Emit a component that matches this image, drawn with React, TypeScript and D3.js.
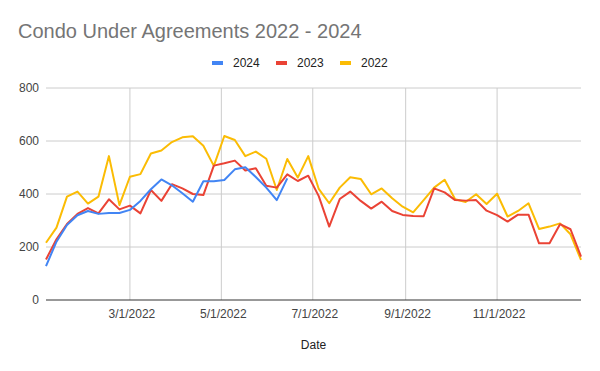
import { useMemo } from "react";
import * as d3 from "d3";

const dates = [
  "2022-01-04", "2022-01-11", "2022-01-18", "2022-01-25",
  "2022-02-01", "2022-02-08", "2022-02-15", "2022-02-22",
  "2022-03-01", "2022-03-08", "2022-03-15", "2022-03-22", "2022-03-29",
  "2022-04-05", "2022-04-12", "2022-04-19", "2022-04-26",
  "2022-05-03", "2022-05-10", "2022-05-17", "2022-05-24", "2022-05-31",
  "2022-06-07", "2022-06-14", "2022-06-21", "2022-06-28",
  "2022-07-05", "2022-07-12", "2022-07-19", "2022-07-26",
  "2022-08-02", "2022-08-09", "2022-08-16", "2022-08-23", "2022-08-30",
  "2022-09-06", "2022-09-13", "2022-09-20", "2022-09-27",
  "2022-10-04", "2022-10-11", "2022-10-18", "2022-10-25",
  "2022-11-01", "2022-11-08", "2022-11-15", "2022-11-22", "2022-11-29",
  "2022-12-06", "2022-12-13", "2022-12-20", "2022-12-27",
];

const values2024 = [
  128, 220, 283, 320, 336, 325, 328, 328, 340, 374, 418, 455, 433, 403, 371,
  448, 448, 453, 493, 501, 464, 424, 377, 459,
];

const values2023 = [
  153, 229, 287, 325, 347, 327, 380, 342, 356, 327, 415, 374, 437, 421, 400,
  396, 507, 516, 526, 489, 497, 431, 424, 474, 449, 469, 392, 277, 381, 409,
  374, 345, 371, 336, 321, 317, 316, 421, 406, 377, 375, 377, 337, 320, 296,
  322, 322, 214, 214, 286, 267, 164,
];

const values2022 = [
  216, 273, 390, 409, 364, 390, 543, 358, 465, 475, 553, 564, 596, 614, 618,
  582, 506, 619, 604, 543, 560, 533, 415, 532, 462, 543, 419, 365, 424, 463,
  457, 399, 421, 384, 352, 331, 377, 424, 454, 380, 370, 399, 362, 401, 315,
  336, 365, 268, 277, 289, 248, 151,
];

const yTicks = [0, 200, 400, 600, 800];
const xTickLabels = ["3/1/2022", "5/1/2022", "7/1/2022", "9/1/2022", "11/1/2022"];

const series = [
  { name: "2024", color: "#4285F4", values: values2024 },
  { name: "2023", color: "#EA4335", values: values2023 },
  { name: "2022", color: "#FBBC04", values: values2022 },
];

const W = 600;
const H = 371;
const margin = { top: 88, right: 19, bottom: 71, left: 46 };

export default function App() {
  const parse = d3.timeParse("%Y-%m-%d");
  const tickParse = d3.timeParse("%m/%d/%Y");
  const parsedDates = dates.map((d) => parse(d) as Date);

  const x = d3
    .scaleTime()
    .domain([parsedDates[0], parsedDates[parsedDates.length - 1]])
    .range([margin.left, W - margin.right]);

  const y = d3
    .scaleLinear()
    .domain([0, 800])
    .range([H - margin.bottom, margin.top]);

  const lineGen = useMemo(
    () =>
      d3
        .line<number>()
        .x((_, i) => x(parsedDates[i]))
        .y((d) => y(d)),
    []
  );

  const font = "Arial, 'Liberation Sans', sans-serif";
  const plotCenter = (margin.left + W - margin.right) / 2;

  return (
    <svg
      width={W}
      height={H}
      style={{ position: "absolute", left: 0, top: 0, background: "#fff" }}
      fontFamily={font}
    >
      <rect width={W} height={H} fill="#fff" />
      <text x={18} y={38} fontSize={20} fill="#757575">
        Condo Under Agreements 2022 - 2024
      </text>

      {/* legend */}
      {series.map((s, i) => {
        const lx = 212 + i * 64;
        return (
          <g key={s.name}>
            <rect x={lx} y={61} width={11} height={4} fill={s.color} />
            <text x={lx + 21} y={66.5} fontSize={12} fill="#222">
              {s.name}
            </text>
          </g>
        );
      })}

      {/* horizontal grid */}
      {yTicks.map((t) => (
        <g key={t}>
          {t > 0 && (
            <line
              x1={margin.left}
              x2={W - margin.right}
              y1={y(t)}
              y2={y(t)}
              stroke="#cccccc"
              strokeWidth={1}
            />
          )}
          <text
            x={39}
            y={y(t) + 4.3}
            fontSize={12}
            textAnchor="end"
            fill="#444"
          >
            {t}
          </text>
        </g>
      ))}

      {/* vertical grid */}
      {xTickLabels.map((lbl) => {
        const xv = x(tickParse(lbl) as Date);
        return (
          <g key={lbl}>
            <line
              x1={xv}
              x2={xv}
              y1={margin.top}
              y2={H - margin.bottom}
              stroke="#cccccc"
              strokeWidth={1}
            />
            <text
              x={xv + 2}
              y={318}
              fontSize={12}
              textAnchor="middle"
              fill="#444"
            >
              {lbl}
            </text>
          </g>
        );
      })}

      {/* baseline */}
      <line
        x1={margin.left}
        x2={W - margin.right}
        y1={y(0)}
        y2={y(0)}
        stroke="#333"
        strokeWidth={1}
      />

      {/* series lines (drawn 2022 first so 2024 sits on top) */}
      {[...series].reverse().map((s) => (
        <path
          key={s.name}
          d={lineGen(s.values) || ""}
          fill="none"
          stroke={s.color}
          strokeWidth={2}
          strokeLinejoin="round"
        />
      ))}

      <text x={plotCenter} y={349} fontSize={12} textAnchor="middle" fill="#222">
        Date
      </text>
    </svg>
  );
}
